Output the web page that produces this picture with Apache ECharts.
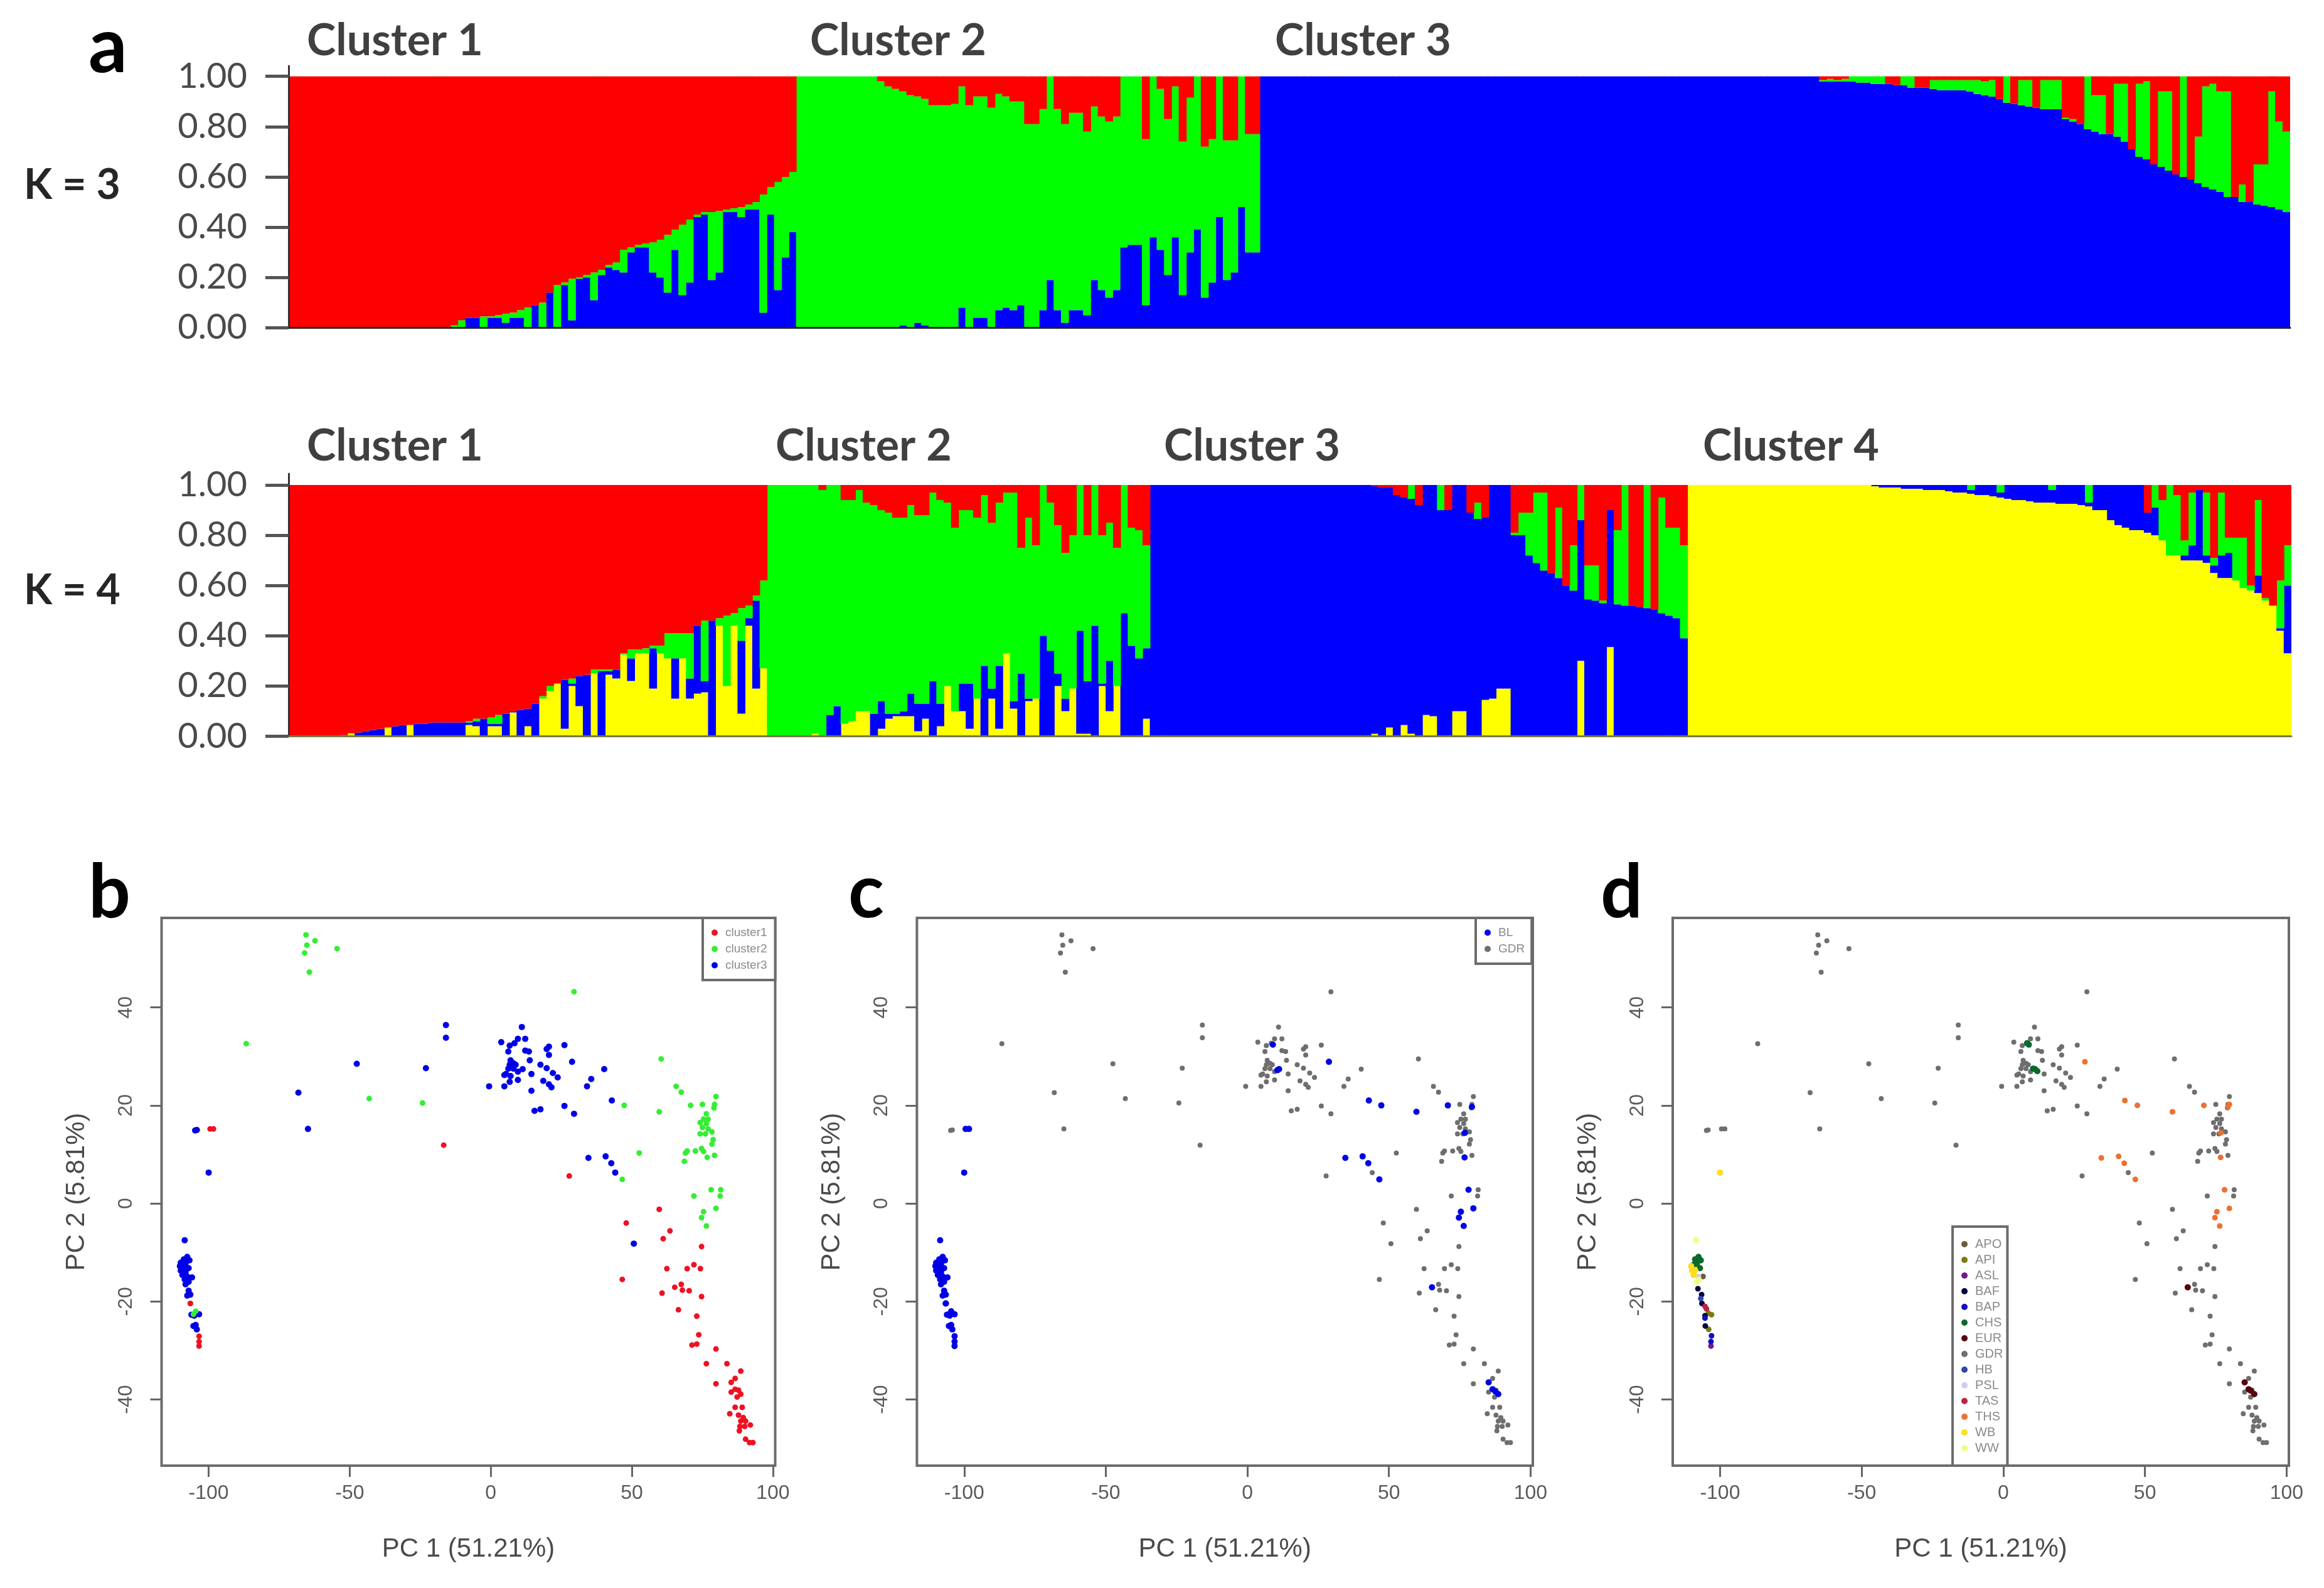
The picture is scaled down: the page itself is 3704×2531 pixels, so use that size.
<!DOCTYPE html>
<html>
<head>
<meta charset="utf-8">
<style>html,body{margin:0;padding:0;background:#fff}#c{width:3704px;height:2531px}</style>
<script src="https://cdn.jsdelivr.net/npm/echarts@6/dist/echarts.min.js"></script>
</head>
<body>
<div id="c"></div>
<script>
// ---- membership proportions, read as the top edge of each stacked colour ----
const k3BlueC1=[0,0,0,0,0,0,0,0,0,0,0,0,0,0,0,0,0,0,0,0,0,0,0,0,.04,.04,0,.04,.04,.02,.04,.04,0,.09,0,.14,0,.17,.03,.195,.2,.11,.21,.24,.23,.22,.3,.32,.32,.22,.2,.14,.31,.13,.18,.44,.45,.19,.22,.46,.46,.44,.47,.47,.06,.45,.15,.28,.38];
const k3GreenC1=[0,0,0,0,0,0,0,0,0,0,0,0,0,0,0,0,0,0,0,0,0,0,.01,.03,.04,.04,.045,.045,.05,.055,.06,.07,.08,.09,.1,.14,.17,.18,.195,.2,.21,.22,.23,.25,.26,.31,.32,.33,.335,.34,.35,.37,.39,.41,.43,.45,.46,.46,.465,.47,.475,.48,.49,.5,.53,.56,.58,.6,.62];
const k3BlueC2=[0,0,0,0,0,0,0,0,0,0,0,0,0,0,.01,0,.02,.01,0,0,0,0,.08,0,.04,.04,0,.07,.08,.07,.09,0,0,.07,.19,.07,.02,.07,.07,.05,.19,.15,.12,.15,.32,.33,.33,.09,.36,.31,.21,.36,.13,.3,.39,.12,.18,.44,.19,.22,.48,.3,.3];
const k3GreenC2=[1,1,1,1,1,1,1,1,1,1,1,.98,.96,.95,.94,.925,.92,.91,.885,.885,.885,.89,.96,.885,.92,.92,.875,.93,.92,.9,.9,.81,.81,.87,1,.87,.81,.855,.855,.78,.88,.84,.82,.84,1,1,1,.75,1,.95,.83,.96,.74,.915,1,.72,.75,1,.745,.745,1,.77,.77];
const k3BlueC3=[1,1,1,1,1,1,1,1,1,1,1,1,1,1,1,1,1,1,1,1,1,1,1,1,1,1,1,1,1,1,1,1,1,1,1,1,1,1,1,1,1,1,1,1,1,1,1,1,1,1,1,1,1,1,1,1,1,1,1,1,1,1,1,1,1,1,1,1,1,1,1,1,1,1,1,1,.98,.98,.98,.98,.98,.975,.975,.97,.97,.97,.965,.965,.955,.955,.955,.95,.945,.945,.945,.945,.94,.93,.925,.92,.91,.895,.89,.885,.88,.875,.87,.87,.87,.83,.82,.81,.79,.78,.77,.77,.76,.74,.71,.68,.67,.65,.64,.625,.61,.6,.59,.575,.56,.55,.54,.52,.52,.5,.5,.49,.485,.48,.47,.46];
const k3GreenC3=[1,1,1,1,1,1,1,1,1,1,1,1,1,1,1,1,1,1,1,1,1,1,1,1,1,1,1,1,1,1,1,1,1,1,1,1,1,1,1,1,1,1,1,1,1,1,1,1,1,1,1,1,1,1,1,1,1,1,1,1,1,1,1,1,1,1,1,1,1,1,1,1,1,1,1,1,.985,.99,.985,.99,1,1,1,1,1,.97,.965,1,1,.955,.955,.985,.985,.985,.985,.985,.985,.985,.98,.985,.91,1,.89,.985,.985,.875,.985,.985,.985,.835,.83,.81,1,.925,.925,.77,.97,.97,.71,.97,.98,.65,.94,.94,.61,1,.59,.76,.96,.97,.94,.94,.52,.57,.5,.65,.65,.94,.82,.78];

const k4YellowC1=[0,0,0,0,0,0,0,0,.012,0,0,0,0,.035,0,0,.045,0,0,0,0,0,0,0,.045,.04,0,.04,.04,0,.095,0,.04,0,.15,.18,.21,.03,.2,.12,0,.25,0,.245,.23,.325,.22,.33,.33,.19,.33,.31,.15,.31,.15,.17,.175,0,.44,.2,.44,.09,.44,.19,.27];
const k4BlueC1=[0,0,0,0,0,0,0,.005,.012,.015,.02,.025,.03,.035,.04,.045,.045,.05,.05,.055,.055,.055,.055,.055,.055,.06,.07,.05,.05,.09,.1,.105,.11,.13,.15,.18,.21,.225,.21,.24,.245,.25,.26,.26,.265,.325,.31,.33,.33,.35,.33,.31,.31,.31,.23,.44,.22,.46,.44,.2,.44,.38,.47,.54,.27];
const k4GreenC1=[0,0,0,0,0,0,0,.005,.012,.015,.02,.025,.03,.035,.04,.045,.045,.05,.05,.055,.055,.055,.055,.055,.06,.07,.07,.075,.085,.09,.1,.105,.11,.13,.16,.2,.21,.225,.23,.24,.245,.265,.265,.265,.265,.33,.345,.345,.35,.36,.36,.41,.41,.41,.41,.44,.46,.46,.47,.48,.49,.51,.52,.56,.62];
const k4YellowC2=[0,0,0,0,0,0,.01,0,0,0,.05,.06,.1,.1,0,.03,.07,.08,.08,.08,.02,.07,0,.04,.2,.1,.1,.03,.15,0,.15,.03,.33,.11,0,.14,.15,0,0,.2,.1,.19,.01,.01,0,.2,.1,.2,0,0,0,.07];
const k4BlueC2=[0,0,0,0,0,0,.01,0,.085,.12,.05,.06,.1,.1,.09,.14,.09,.09,.1,.17,.13,.13,.22,.13,.2,.1,.21,.21,.15,.28,.19,.28,.33,.14,.25,.15,.15,.4,.34,.25,.15,.19,.42,.22,.44,.21,.3,.2,.49,.36,.31,.35];
const k4GreenC2=[1,1,1,1,1,1,1,.98,1,1,.94,.94,.98,.93,.92,.9,.89,.87,.87,.92,.88,.88,.97,.94,.93,.83,.9,.9,.87,.96,.85,.93,.97,.97,.75,.87,.76,1,.93,.84,.73,.8,1,.8,1,.8,.85,.75,1,.83,.82,.76];
const k4YellowC3=[0,0,0,0,0,0,0,0,0,0,0,0,0,0,0,0,0,0,0,0,0,0,0,0,0,0,0,0,0,0,.01,0,.035,0,.045,.01,0,.085,.08,0,0,.1,.1,0,0,.145,.15,.19,.19,0,0,0,0,0,0,0,0,0,.3,0,0,0,.355,0,0,0,0,0,0,0,0,0,0];
const k4BlueC3=[1,1,1,1,1,1,1,1,1,1,1,1,1,1,1,1,1,1,1,1,1,1,1,1,1,1,1,1,1,1,.995,.99,.99,.96,.95,.945,.92,1,1,.9,.9,1,1,.89,.865,.87,1,1,1,.8,.8,.72,.69,.66,.65,.63,.6,.58,.86,.545,.54,.53,.9,.525,.52,.52,.515,.51,.505,.49,.48,.47,.39];
const k4GreenC3=[1,1,1,1,1,1,1,1,1,1,1,1,1,1,1,1,1,1,1,1,1,1,1,1,1,1,1,1,1,1,.995,.99,.99,.96,.95,1,.92,1,1,1,.9,1,1,.89,.93,.87,1,1,1,.81,.89,.89,.97,.97,.65,.91,.6,.76,1,.68,.68,.54,.9,.82,1,.52,.515,1,.505,.95,.83,.83,.76];
const k4YellowC4=[1,1,1,1,1,1,1,1,1,1,1,1,1,1,1,1,1,1,1,1,1,1,1,1,1,.995,.99,.99,.99,.985,.985,.985,.98,.98,.98,.975,.97,.97,.965,.96,.96,.955,.95,.945,.94,.94,.935,.93,.93,.93,.925,.925,.925,.92,.915,.9,.9,.86,.84,.83,.82,.82,.81,.8,.78,.72,.72,.7,.7,.7,.69,.65,.63,.63,.62,.59,.58,.57,.54,.52,.42,.33];
const k4BlueC4=[1,1,1,1,1,1,1,1,1,1,1,1,1,1,1,1,1,1,1,1,1,1,1,1,1,1,1,1,1,1,1,1,1,1,1,1,1,1,.98,1,1,1,.97,1,1,1,1,1,1,.98,1,1,1,1,.93,1,1,1,1,1,1,1,.89,.91,.78,.72,.72,.72,.76,.98,.72,.68,.72,.73,.62,.59,.58,.64,.54,.52,.43,.6];
const k4GreenC4=[1,1,1,1,1,1,1,1,1,1,1,1,1,1,1,1,1,1,1,1,1,1,1,1,1,1,1,1,1,1,1,1,1,1,1,1,1,1,1,1,1,1,1,1,1,1,1,1,1,1,1,1,1,1,1,1,1,1,1,1,1,1,.89,1,.94,1,.96,.78,.97,.98,.97,.71,.97,.79,.79,.79,.6,.94,.55,.52,.62,.76];

// ---- PCA points [PC1, PC2] ----
const redPoints=[[-99.5,15.2],[-98.3,15.2],[-16.7,11.9],[27.8,5.6],[59.7,-1.2],[48,-4],[63.5,-5.6],[61.1,-7.2],[74.7,-8.8],[46.6,-15.5],[62.4,-13.3],[69.6,-13.3],[72,-12.5],[74.3,-13.3],[60.7,-18.3],[65.2,-17.1],[67.5,-16.5],[67.9,-17.7],[70.3,-17.8],[74.7,-19],[66.5,-21.7],[73,-23],[73.7,-26.8],[71.3,-28.9],[73,-28.7],[79.8,-29.7],[76.4,-32.7],[83.7,-32.7],[88.6,-34.2],[86.6,-35.7],[85.2,-36.5],[79.8,-36.8],[86.6,-37.9],[85.2,-38.5],[87.8,-38.1],[88.6,-38.9],[87.3,-39.5],[86.6,-41.6],[89.1,-41.6],[84.7,-42.9],[87.8,-43.2],[89.5,-43.7],[88.6,-44.4],[90.3,-44.4],[88.3,-45.5],[92,-45.2],[90,-45.5],[88.1,-46.4],[90.3,-48.1],[91.7,-48.8],[92.9,-48.8]];
const greenPoints=[[-65.5,54.8],[-62.3,53.6],[-65.2,52.7],[-66,51.1],[-54.5,52],[-64.3,47.2],[-86.7,32.6],[-43.1,21.4],[-24.2,20.5],[29.5,43.2],[60.4,29.5],[65.7,23.9],[67.5,22.7],[47.3,20],[59.7,18.7],[70.8,20],[75,20.2],[79.8,21.8],[79.3,20.2],[79.1,19.5],[76.4,18.3],[75.4,17.2],[77,17.2],[74.2,16.5],[76.4,16.3],[75,15.5],[77,15.2],[78.4,14.6],[74.2,14.2],[76.1,14.2],[78.8,13],[78.4,12.1],[74.7,11.2],[72.5,10.7],[69.6,10.7],[69,10.3],[75.4,10.6],[79.3,9.8],[76.7,9.4],[68.6,8.6],[52.6,10.3],[46.6,4.9],[78.1,2.8],[81.5,2.8],[81.3,1.5],[72,1.5],[79.8,-1],[75.4,-1.7],[74.7,-2.9],[76.4,-4.6]];
const bluePoints=[[-104.2,15],[-104.8,14.9],[-100,6.3],[-64.8,15.2],[-68.2,22.6],[-47.5,28.5],[-23,27.6],[-15.9,36.4],[-15.9,33.8],[-0.6,23.9],[3.7,32.9],[6.2,31],[6.7,32.2],[8.4,32.7],[9.6,33.6],[11,36],[12.2,33.6],[12.2,31.2],[13.5,31],[13.8,29.2],[7,29.2],[8,28.6],[6.7,28.3],[8.8,28.3],[6.2,27.5],[8,27.5],[5.4,26.4],[11.3,27.4],[9.6,26.9],[7,26],[4.8,26.2],[6.7,24.8],[9.6,25.2],[4.8,23.9],[14.4,26.4],[14.4,23],[17.6,28.3],[19.8,27.6],[20.6,32],[19.8,31.5],[20.6,30.3],[22,26.6],[23.7,25.7],[18.6,25],[20.6,24.3],[21.5,23.7],[26.1,32.3],[28.8,28.9],[15.5,18.9],[17.6,19.2],[26.1,19.9],[29.5,18.3],[34.1,23.9],[35.6,25.4],[40.2,27.4],[42.9,21],[34.6,9.3],[40.7,9.6],[42.7,8.2],[44.1,6.3],[50.7,-8.2]];
const stemBlue=[[-108.5,-7.5],[-107.6,-10.9],[-108.8,-11.4],[-106.8,-11.6],[-109.9,-12.1],[-108.2,-12.3],[-110.2,-12.8],[-108.8,-13],[-107.1,-13.2],[-109.9,-13.7],[-108.2,-14],[-109.3,-14.6],[-107.6,-14.9],[-105.9,-15.1],[-108.5,-15.5],[-107.1,-16],[-108.2,-16.5],[-107.1,-17.8],[-106.5,-18.6],[-107.6,-18.8],[-106.1,-22.7],[-105.1,-22.9],[-103.4,-22.6],[-105.4,-25],[-104.2,-25.7],[-104.6,-24.8]];
const stemGreen=[[-104.6,-22],[-105.4,-22.6],[-106.5,-20.4]];
const stemRed=[[-106.5,-20.4],[-103.4,-27.1],[-103.4,-28.2],[-103.4,-29.1]];
const blScattered=[[-99.5,15.2],[-98.3,15.2],[-100,6.3],[9,32.4],[11.2,27.4],[10.6,27.2],[28.8,28.9],[42.9,21],[47.3,20],[59.7,18.7],[70.8,20],[79.3,19.7],[34.6,9.3],[40.7,9.6],[42.7,8.2],[46.6,4.9],[76.8,14.4],[76.7,9.4],[78.1,2.8],[75.4,-1.7],[74.7,-2.9],[76.4,-4.6],[79.8,-1],[65.2,-17.1],[85.2,-36.5],[86.6,-37.9],[87.6,-38.4],[88.6,-38.9]];
const groupAPO=[[-106,-14.9]];
const groupAPI=[[-104.1,-22.4],[-103,-22.7],[-104,-25.7]];
const groupASL=[[-103.2,-29.1]];
const groupBAF=[[-107.8,-17.4],[-106.5,-18.6],[-106.4,-20.4],[-105.3,-22.9],[-105.2,-25]];
const groupBAP=[[-105.3,-23.4],[-103,-27],[-103.2,-28.2]];
const groupCHS=[[9,32.4],[8.4,32.7],[11.2,27.4],[10.5,27.5],[12,27],[-107.6,-10.9],[-108.8,-11.4],[-106.8,-11.6],[-108.2,-12.3],[-107.1,-13.2],[-109.3,-12.5]];
const groupEUR=[[85.2,-36.5],[86.6,-37.9],[87.3,-38.2],[88.6,-38.9],[65.1,-17.1]];
const groupHB=[[-106.8,-19.4]];
const groupPSL=[[-107.6,-14.9]];
const groupTAS=[[-105.3,-21],[-104.8,-21.5]];
const groupTHS=[[28.8,28.9],[42.9,21],[47.3,20],[59.7,18.7],[70.8,20],[79.3,19.7],[79.8,20.2],[34.6,9.3],[40.7,9.6],[42.7,8.2],[46.6,4.9],[76.8,14.4],[76.7,9.4],[78.1,2.8],[75.4,-1.7],[74.7,-2.9],[76.4,-4.6],[79.8,-1]];
const groupWB=[[-100,6.3],[-109.9,-13.7],[-110.2,-12.8],[-108.8,-13.6],[-109.3,-14.6]];
const groupWW=[[-108.5,-7.5],[-108.2,-16],[-107.5,-15.6]];

const yTickLabels=[0,0.2,0.4,0.6,0.8,1];
const xTicksPC=[-100,-50,0,50,100];
const yTicksPC=[-40,-20,0,20,40];
const c_red='#ff0000',c_green='#00ff00',c_blue='#0000ff',c_yellow='#ffff00';

const k3Blue=[...k3BlueC1,...k3BlueC2,...k3BlueC3];
const k3Green=[...k3GreenC1,...k3GreenC2,...k3GreenC3];
const k4Yellow=[...k4YellowC1,...k4YellowC2,...k4YellowC3,...k4YellowC4];
const k4Blue=[...k4BlueC1,...k4BlueC2,...k4BlueC3,...k4BlueC4];
const k4Green=[...k4GreenC1,...k4GreenC2,...k4GreenC3,...k4GreenC4];
const individuals=k3Blue.map((_,i)=>i+1);

function seg(hi,lo){return hi.map((v,i)=>{const l=lo?lo[i]:0;const d=+(v-l).toFixed(4);return d>0?d:null;});}
function rest(lo){return lo.map(v=>{const d=+(1-v).toFixed(4);return d>0?d:null;});}

function barSeries(name,color,data,gi,stack){
  return {name,type:'bar',xAxisIndex:gi,yAxisIndex:gi,stack,data,barWidth:12.6,silent:true,
    itemStyle:{color},z:2};
}
function barAxes(gi,grid,ymax,lineColor,labelDrop){
  return {
    grid:{left:grid[0],width:grid[1],top:grid[2],height:grid[3]},
    x:{type:'category',gridIndex:gi,data:individuals,axisTick:{show:false},axisLabel:{show:false},
      axisLine:{show:true,onZero:false,lineStyle:{color:lineColor,width:3}},z:5},
    y:{type:'value',gridIndex:gi,min:0,max:ymax,splitLine:{show:false},
      axisLine:{show:true,onZero:false,lineStyle:{color:'#333333',width:3}},
      axisTick:{show:true,length:37,customValues:yTickLabels,lineStyle:{color:'#555555',width:5}},
      axisLabel:{show:true,customValues:yTickLabels,margin:66,fontFamily:'Lato',fontSize:56,color:'#4a4a4a',padding:[labelDrop,0,0,0],formatter:v=>v.toFixed(2)},z:5}
  };
}
const PC_X_MIN=-116.7,PC_X_MAX=100.8,PC_Y_MIN=-53.5,PC_Y_MAX=58.26;
function pcaAxes(gi,left,width){
  return {
    grid:{left,width,top:1463,height:873,show:true,borderColor:'#6c6c6c',borderWidth:4,backgroundColor:'#fff'},
    x:{type:'value',gridIndex:gi,min:PC_X_MIN,max:PC_X_MAX,splitLine:{show:false},axisLine:{show:false,onZero:false},
      axisTick:{show:true,length:18,customValues:xTicksPC,lineStyle:{color:'#666',width:3}},
      axisLabel:{show:true,customValues:xTicksPC,margin:28,fontFamily:'Liberation Sans',fontSize:32,color:'#5a5a5a'},
      name:'PC 1 (51.21%)',nameLocation:'middle',nameGap:112,nameTextStyle:{fontFamily:'Liberation Sans',fontSize:42,color:'#4a4a4a'}},
    y:{type:'value',gridIndex:gi,min:PC_Y_MIN,max:PC_Y_MAX,splitLine:{show:false},axisLine:{show:false,onZero:false},
      axisTick:{show:true,length:18,customValues:yTicksPC,lineStyle:{color:'#666',width:3}},
      axisLabel:{show:true,customValues:yTicksPC,rotate:90,margin:40,fontFamily:'Liberation Sans',fontSize:32,color:'#5a5a5a'},
      name:'PC 2 (5.81%)',nameLocation:'middle',nameGap:114,nameTextStyle:{fontFamily:'Liberation Sans',fontSize:42,color:'#4a4a4a'}}
  };
}
function pts(name,color,data,gi,size){
  return {name,type:'scatter',xAxisIndex:gi,yAxisIndex:gi,data,symbol:'circle',symbolSize:size,silent:true,
    itemStyle:{color,opacity:1},z:3};
}
function legendBox(left,topPx,names,gap,pad,font){
  return {show:true,orient:'vertical',left,top:topPx,data:names,selectedMode:false,icon:'circle',itemWidth:10,itemHeight:10,itemGap:gap,
    padding:pad,backgroundColor:'#fff',borderColor:'#6c6c6c',borderWidth:4,align:'left',z:10,
    textStyle:{fontFamily:'Liberation Sans',fontSize:font,color:'#8a8a8a',padding:[0,0,0,7],lineHeight:font}};
}

const ax=[
  barAxes(0,[460,3190,105,417.4],1.0416,'#222222',10),
  barAxes(1,[460,3192,755,418.5],1.045,'#777744',12),
  pcaAxes(2,257.5,978),
  pcaAxes(3,1461.4,981.6),
  pcaAxes(4,2666,982)
];

const allGray=[...redPoints,...greenPoints,...bluePoints];
const series=[
  barSeries('K3 blue',c_blue,seg(k3Blue),0,'k3'),
  barSeries('K3 green',c_green,seg(k3Green,k3Blue),0,'k3'),
  barSeries('K3 red',c_red,rest(k3Green),0,'k3'),
  barSeries('K4 yellow',c_yellow,seg(k4Yellow),1,'k4'),
  barSeries('K4 blue',c_blue,seg(k4Blue,k4Yellow),1,'k4'),
  barSeries('K4 green',c_green,seg(k4Green,k4Blue),1,'k4'),
  barSeries('K4 red',c_red,rest(k4Green),1,'k4'),
  pts('cluster3','#0000e6',[...bluePoints,...stemBlue],2,10),
  pts('cluster2','#33ee33',[...greenPoints,...stemGreen],2,9),
  pts('cluster1','#ee1122',[...redPoints,...stemRed],2,9),
  pts('GDR','#6e6e6e',allGray,3,8),
  pts('BL','#0000e6',[...stemBlue,...stemGreen,...stemRed,...blScattered],3,10),
  pts('GDR','#6e6e6e',allGray,4,8),
  pts('APO','#6b5a40',groupAPO,4,9),
  pts('API','#7a7a10',groupAPI,4,9),
  pts('ASL','#701a90',groupASL,4,9),
  pts('BAF','#000040',groupBAF,4,9),
  pts('BAP','#1010c0',groupBAP,4,9),
  pts('CHS','#0a6a2a',groupCHS,4,10),
  pts('EUR','#5a0010',groupEUR,4,10),
  pts('HB','#3344aa',groupHB,4,9),
  pts('PSL','#d8c8f0',groupPSL,4,9),
  pts('TAS','#c02040',groupTAS,4,9),
  pts('THS','#ee7030',groupTHS,4,9),
  pts('WB','#ffdd22',groupWB,4,10),
  pts('WW','#eeff88',groupWW,4,10)
];

function label(text,x,y,size,color,family,weight){
  return {type:'text',z:20,style:{x,y,text,fill:color,textVerticalAlign:'middle',verticalAlign:'middle',
    font:(weight||'bold')+' '+size+'px "'+(family||'Lato')+'"'}};
}
const graphics=[
  label('a',141,76,122,'#000'),label('b',141,1424,118,'#000'),label('c',1352,1424,118,'#000'),label('d',2551,1424,118,'#000'),
  label('K = 3',38,296,66,'#262626'),label('K = 4',38,942,66,'#262626'),
  label('Cluster 1',489,65,70,'#404040'),label('Cluster 2',1291,65,70,'#404040'),label('Cluster 3',2032,65,70,'#404040'),
  label('Cluster 1',489,711,70,'#404040'),label('Cluster 2',1236,711,70,'#404040'),label('Cluster 3',1855,711,70,'#404040'),label('Cluster 4',2714,711,70,'#404040')
];

const chart=echarts.init(document.getElementById('c'),null,{renderer:'canvas',width:3704,height:2531});
chart.setOption({
  animation:false,backgroundColor:'#ffffff',tooltip:{show:false},
  grid:ax.map(a=>a.grid),xAxis:ax.map(a=>a.x),yAxis:ax.map(a=>a.y),
  legend:[
    legendBox(1120,1463,['cluster1','cluster2','cluster3'],7,[14,13,14,14],19),
    legendBox(2352,1463,['BL','GDR'],7,[14,11,14,14],19),
    legendBox(3112,1955,['APO','API','ASL','BAF','BAP','CHS','EUR','GDR','HB','PSL','TAS','THS','WB','WW'],5,[18,7,18,14],20)
  ],
  series,graphic:graphics
});
</script>
</body>
</html>
